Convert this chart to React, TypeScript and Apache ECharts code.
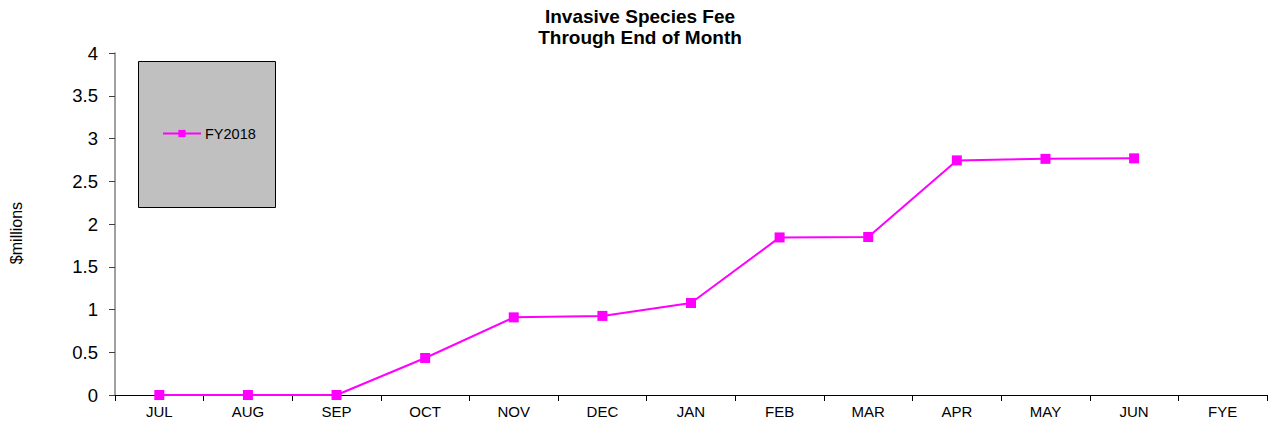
import React, { useEffect, useRef } from "react";
import * as echarts from "echarts";

const categories = ["JUL", "AUG", "SEP", "OCT", "NOV", "DEC", "JAN", "FEB", "MAR", "APR", "MAY", "JUN", "FYE"];
const fy2018: (number | null)[] = [0, 0, 0, 0.433, 0.908, 0.925, 1.076, 1.843, 1.848, 2.744, 2.762, 2.768, null];
const seriesName = "FY2018";
const titleLines = ["Invasive Species Fee", "Through End of Month"];
const yAxisName = "$millions";

const FONT = "Liberation Sans, Arial, sans-serif";

export default function App() {
  const ref = useRef<HTMLDivElement>(null);
  useEffect(() => {
    if (!ref.current) return;
    document.body.style.margin = "0";
    const chart = echarts.init(ref.current, null, { renderer: "svg" });
    chart.setOption({
      animation: false,
      backgroundColor: "#ffffff",
      title: {
        text: titleLines.join("\n"),
        left: 635,
        textAlign: "center",
        top: 1,
        padding: 5,
        textStyle: { fontFamily: FONT, fontSize: 19, fontWeight: "bold", color: "#000", lineHeight: 21 },
      },
      grid: { left: 115, right: 8, top: 53, bottom: 30, containLabel: false },
      graphic: [
        {
          type: "rect",
          z: 0,
          shape: { x: 138.5, y: 61.5, width: 137, height: 146 },
          style: { fill: "#C0C0C0", stroke: "#000", lineWidth: 1 },
        },
        {
          type: "text",
          x: 16,
          y: 233,
          rotation: Math.PI / 2,
          style: {
            text: yAxisName,
            fontFamily: FONT,
            fontSize: 16,
            fill: "#000",
            align: "center",
            verticalAlign: "middle",
          },
        },
      ],
      legend: {
        left: 162,
        top: 126,
        z: 10,
        itemWidth: 38,
        itemHeight: 9,
        itemGap: 4,
        padding: 0,
        data: [seriesName],
        textStyle: { fontFamily: FONT, fontSize: 14.5, color: "#000", padding: [0, 0, 0, -1] },
      },
      xAxis: {
        type: "category",
        data: categories,
        boundaryGap: true,
        axisLine: { lineStyle: { color: "#000", width: 1 } },
        axisTick: { show: true, alignWithLabel: false, inside: false, length: 6, lineStyle: { color: "#000" } },
        axisLabel: { fontFamily: FONT, fontSize: 15, color: "#000", margin: 9, interval: 0 },
        splitLine: { show: false },
      },
      yAxis: {
        type: "value",
        min: 0,
        max: 4,
        interval: 0.5,
        axisLine: { show: true, lineStyle: { color: "#808080", width: 1.5 } },
        axisTick: { show: true, length: 6, lineStyle: { color: "#404040" } },
        axisLabel: { fontFamily: FONT, fontSize: 18.5, color: "#000", margin: 17 },
        splitLine: { show: false },
      },
      series: [
        {
          name: seriesName,
          type: "line",
          data: fy2018,
          color: "#FF00FF",
          symbol: "rect",
          symbolSize: 10,
          lineStyle: { color: "#FF00FF", width: 2 },
          itemStyle: { color: "#FF00FF" },
          connectNulls: false,
        },
      ],
    });
    return () => chart.dispose();
  }, []);
  return <div ref={ref} style={{ width: 1275, height: 425 }} />;
}
